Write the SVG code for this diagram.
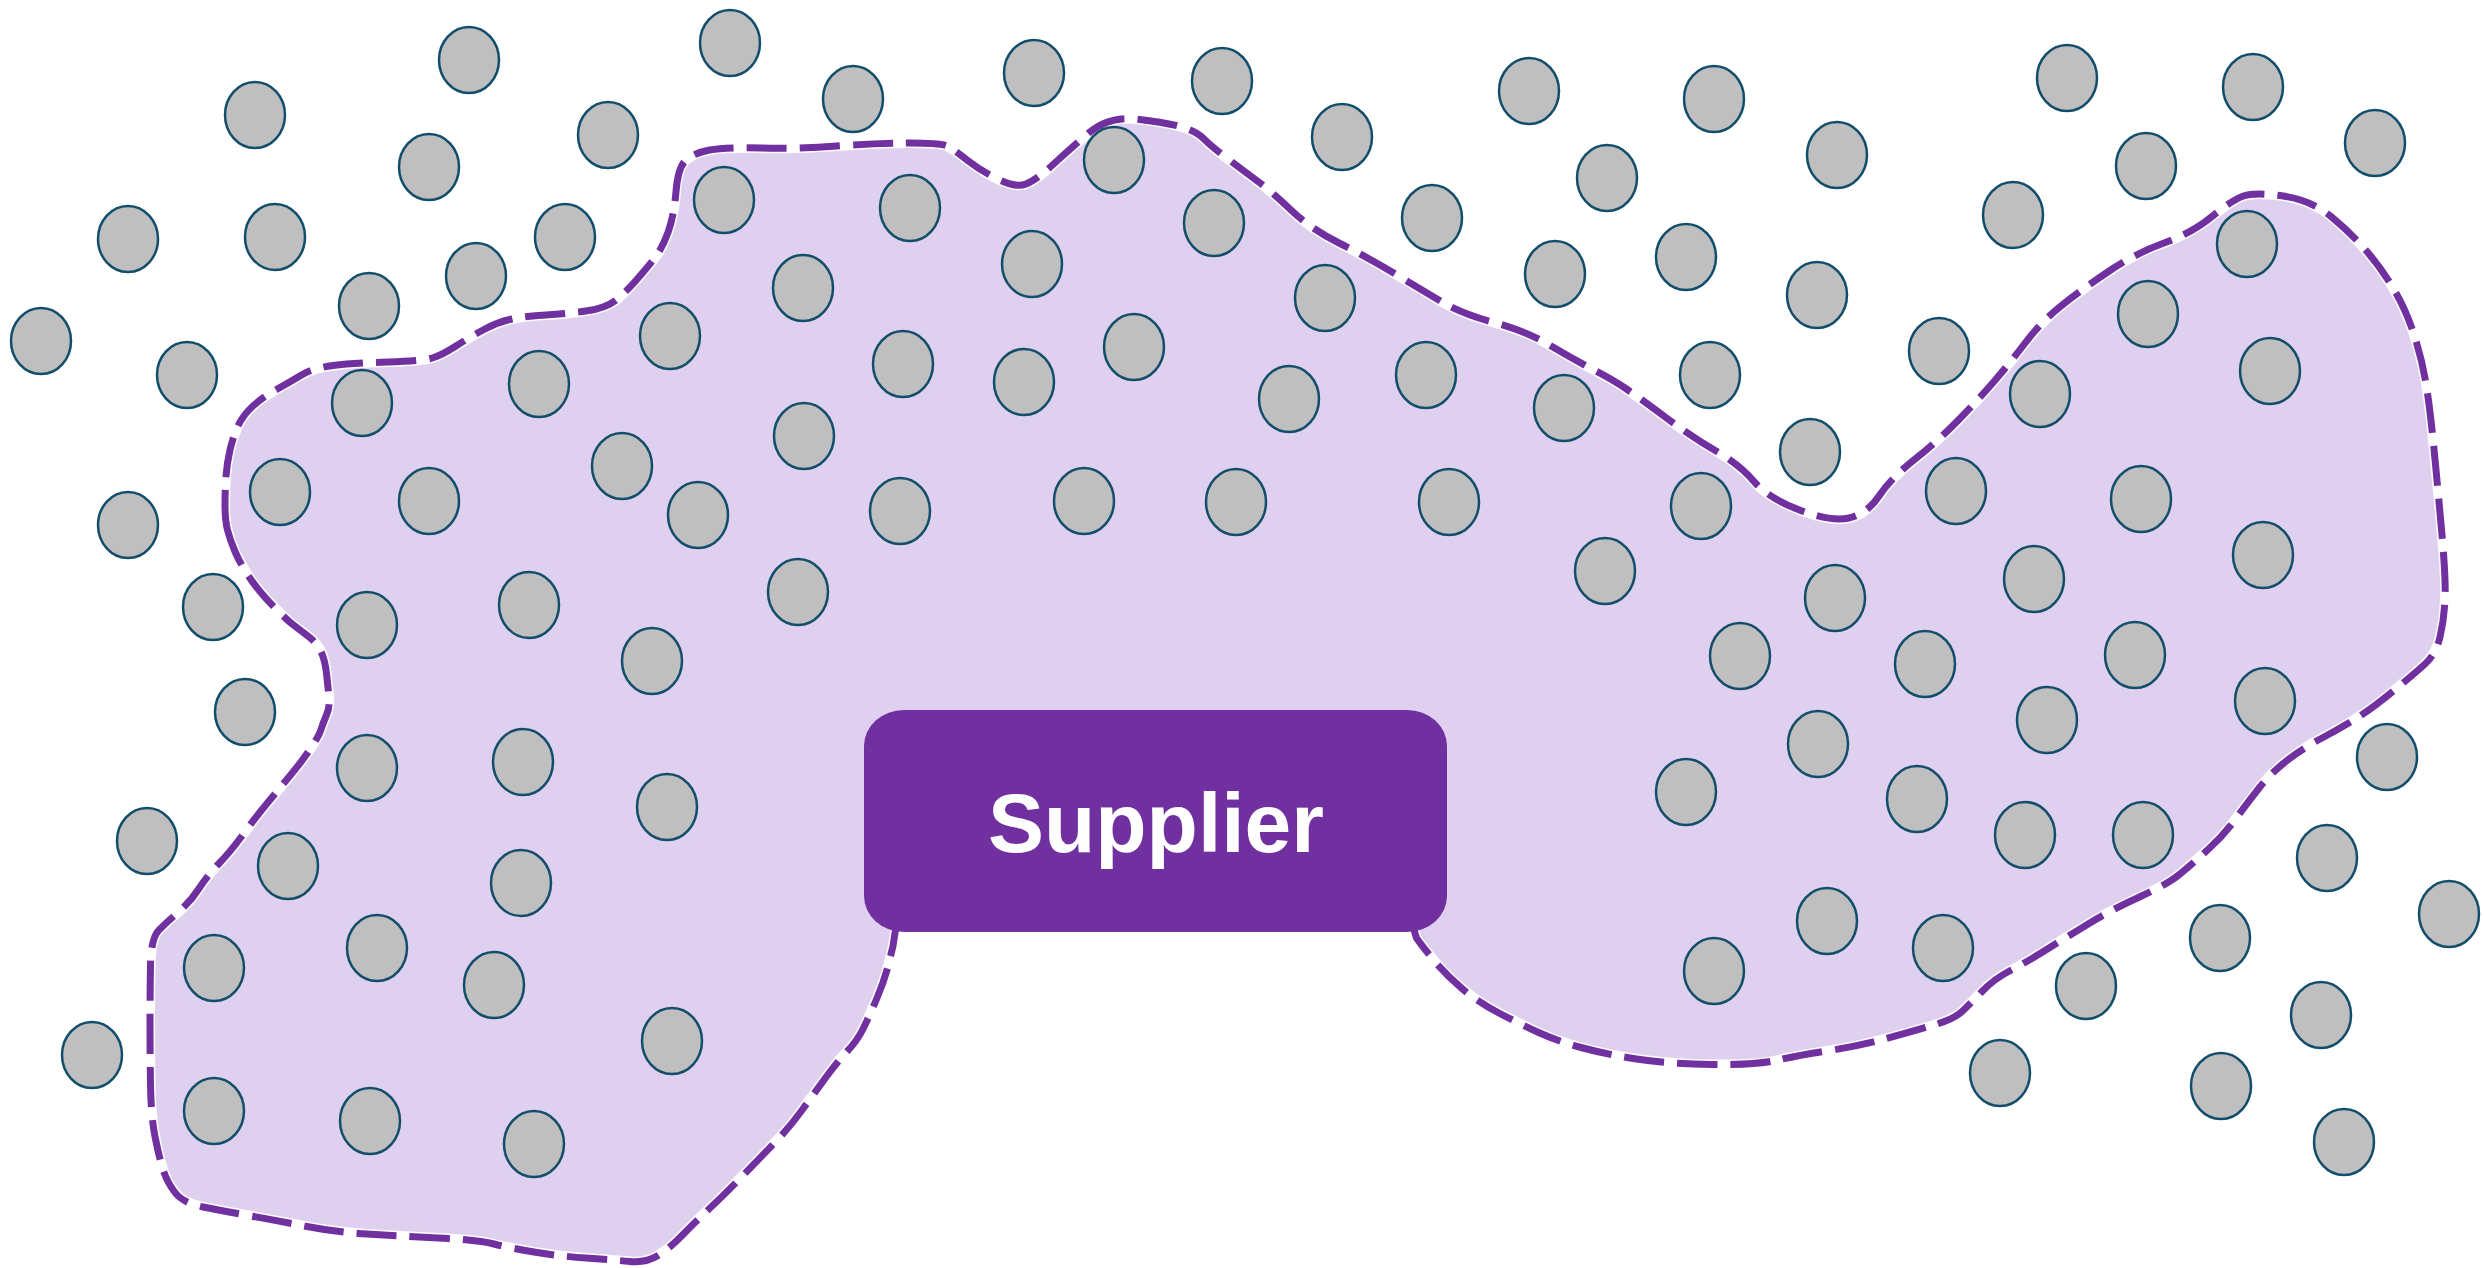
<svg xmlns="http://www.w3.org/2000/svg" width="2484" height="1268" viewBox="0 0 2484 1268">
  <style>
    .dot { fill: #BFBFBF; stroke: #124E6B; stroke-width: 2.5; }
    .zone { fill: #E0D0EF; stroke: none; }
    .halo { fill: none; stroke: #FFFFFF; stroke-width: 10; stroke-linejoin: round; }
    .edge { fill: none; stroke: #7030A0; stroke-width: 7; stroke-dasharray: 40 13; stroke-linejoin: round; }
    .box { fill: #7030A0; }
    .label { font-family: "Liberation Sans", Arial, sans-serif; font-weight: bold; font-size: 84px; fill: #FFFFFF; text-anchor: middle; }
  </style>
  <defs>
    <!-- smoothed outline of the area the supplier reaches (passes under the supplier box) -->
    <path id="reach" d="M227.5,530 Q225,520 225,505 Q225,490 226,476.5 Q227,463 230,450 Q233,437 238,426 Q243,415 253,406 Q263,397 276.5,389.5 Q290,382 301.5,375 Q313,368 333,365.5 Q353,363 388,362 Q423,361 432.5,358 Q442,355 456,346 Q470,337 484,329.5 Q498,322 512,319 Q526,316 546,315 Q566,314 586,311 Q606,308 616,300 Q626,292 636,280.5 Q646,269 654,259 Q662,249 668,232.5 Q674,216 676,191.5 Q678,167 686,160 Q694,153 709.5,150 Q725,147 761,148 Q797,149 837,146 Q877,143 909,143 Q941,143 947,146 Q953,149 967,160 Q981,171 998.5,179.5 Q1016,188 1026,184 Q1036,180 1052,165.5 Q1068,151 1088,133.5 Q1108,116 1136,119 Q1164,122 1180,126.5 Q1196,131 1204,139 Q1212,147 1228,159 Q1244,171 1258,181.5 Q1272,192 1291.5,210.5 Q1311,229 1339,243 Q1367,257 1394.5,273.5 Q1422,290 1442,302 Q1462,314 1494,322.5 Q1526,331 1549.5,345 Q1573,359 1593,369.5 Q1613,380 1625,388 Q1637,396 1664.5,416.5 Q1692,437 1716,451 Q1740,465 1754,481.5 Q1768,498 1799.5,510 Q1831,522 1849,518 Q1867,514 1879,496 Q1891,478 1914.5,459.5 Q1938,441 1958,420.5 Q1978,400 1994,381.5 Q2010,363 2025.5,342.5 Q2041,322 2061,306 Q2081,290 2108.5,271.5 Q2136,253 2164,243 Q2192,233 2212,216.5 Q2232,200 2243.5,196 Q2255,192 2283,196 Q2311,200 2331,216.5 Q2351,233 2366.5,251 Q2382,269 2394,289.5 Q2406,310 2414,334.5 Q2422,359 2426,383.5 Q2430,408 2434,449 Q2438,490 2442,535 Q2446,580 2445,600 Q2444,620 2440,637 Q2436,654 2425,664 Q2414,674 2394,690.5 Q2374,707 2358.5,717 Q2343,727 2323,737.5 Q2303,748 2287,760.5 Q2271,773 2259.5,787.5 Q2248,802 2236,818.5 Q2224,835 2208,849.5 Q2192,864 2180,874 Q2168,884 2140.5,896.5 Q2113,909 2089,923.5 Q2065,938 2045,950.5 Q2025,963 2009.5,971 Q1994,979 1982,991.5 Q1970,1004 1962,1011.5 Q1954,1019 1934,1025 Q1914,1031 1886.5,1038.5 Q1859,1046 1827,1051 Q1795,1056 1775.5,1060.5 Q1756,1065 1712,1064.5 Q1668,1064 1636.5,1059 Q1605,1054 1581,1047.5 Q1557,1041 1537.5,1032 Q1518,1023 1498,1012.5 Q1478,1002 1462,988.5 Q1446,975 1434,960.5 Q1422,946 1416.5,938 L1405,900 L900,900 L893,946 L889,962.5 Q885,979 877,998 Q869,1017 863,1029 Q857,1041 847,1051.5 Q837,1062 825,1078.5 Q813,1095 801,1111.5 Q789,1128 773,1144.5 Q757,1161 741,1177.5 Q725,1194 709.5,1208.5 Q694,1223 682,1235.5 Q670,1248 658,1255.5 Q646,1263 630,1261.5 Q614,1260 586,1258 Q558,1256 534,1252 Q510,1248 494,1244 Q478,1240 438.5,1238 Q399,1236 367,1234 Q335,1232 307,1226.5 Q279,1221 251,1216 Q223,1211 203,1207 Q183,1203 175,1192.5 Q167,1182 163,1169.5 Q159,1157 155,1136.5 Q151,1116 150.5,1085 Q150,1054 150,1023 Q150,992 150.5,965 Q151,938 159,930 Q167,922 179,911.5 Q191,901 199,888.5 Q207,876 219,863.5 Q231,851 243,834.5 Q255,818 267,803.5 Q279,789 291,774.5 Q303,760 311,748 Q319,736 321,729.5 Q323,723 326.5,715 Q330,707 329,697 Q328,687 326.5,673.5 Q325,660 321,651.5 Q317,643 308.5,636.5 Q300,630 293.5,625 Q287,620 277,610 Q267,600 260,591.5 Q253,583 246.5,573 Q240,563 235,551.5 Q230,540 227.5,530 Z"/>
  </defs>

  <!-- supplier reach area -->
  <g id="reach-area">
    <use href="#reach" class="zone"/>
    <use href="#reach" class="halo"/>
    <use href="#reach" class="edge"/>
  </g>

  <!-- entities -->
  <g id="entities">
    <ellipse class="dot" cx="255" cy="115" rx="30" ry="33"/>
    <ellipse class="dot" cx="469" cy="60" rx="30" ry="33"/>
    <ellipse class="dot" cx="730" cy="43" rx="30" ry="33"/>
    <ellipse class="dot" cx="853" cy="99" rx="30" ry="33"/>
    <ellipse class="dot" cx="1034" cy="73" rx="30" ry="33"/>
    <ellipse class="dot" cx="1222" cy="81" rx="30" ry="33"/>
    <ellipse class="dot" cx="608" cy="135" rx="30" ry="33"/>
    <ellipse class="dot" cx="429" cy="167" rx="30" ry="33"/>
    <ellipse class="dot" cx="128" cy="239" rx="30" ry="33"/>
    <ellipse class="dot" cx="275" cy="237" rx="30" ry="33"/>
    <ellipse class="dot" cx="565" cy="237" rx="30" ry="33"/>
    <ellipse class="dot" cx="724" cy="200" rx="30" ry="33"/>
    <ellipse class="dot" cx="910" cy="208" rx="30" ry="33"/>
    <ellipse class="dot" cx="1114" cy="160" rx="30" ry="33"/>
    <ellipse class="dot" cx="1214" cy="223" rx="30" ry="33"/>
    <ellipse class="dot" cx="1032" cy="264" rx="30" ry="33"/>
    <ellipse class="dot" cx="476" cy="276" rx="30" ry="33"/>
    <ellipse class="dot" cx="369" cy="306" rx="30" ry="33"/>
    <ellipse class="dot" cx="41" cy="341" rx="30" ry="33"/>
    <ellipse class="dot" cx="187" cy="375" rx="30" ry="33"/>
    <ellipse class="dot" cx="803" cy="288" rx="30" ry="33"/>
    <ellipse class="dot" cx="670" cy="336" rx="30" ry="33"/>
    <ellipse class="dot" cx="539" cy="384" rx="30" ry="33"/>
    <ellipse class="dot" cx="362" cy="403" rx="30" ry="33"/>
    <ellipse class="dot" cx="903" cy="364" rx="30" ry="33"/>
    <ellipse class="dot" cx="1024" cy="382" rx="30" ry="33"/>
    <ellipse class="dot" cx="1134" cy="347" rx="30" ry="33"/>
    <ellipse class="dot" cx="804" cy="436" rx="30" ry="33"/>
    <ellipse class="dot" cx="622" cy="466" rx="30" ry="33"/>
    <ellipse class="dot" cx="280" cy="492" rx="30" ry="33"/>
    <ellipse class="dot" cx="429" cy="501" rx="30" ry="33"/>
    <ellipse class="dot" cx="698" cy="515" rx="30" ry="33"/>
    <ellipse class="dot" cx="900" cy="511" rx="30" ry="33"/>
    <ellipse class="dot" cx="1084" cy="501" rx="30" ry="33"/>
    <ellipse class="dot" cx="1236" cy="502" rx="30" ry="33"/>
    <ellipse class="dot" cx="128" cy="525" rx="30" ry="33"/>
    <ellipse class="dot" cx="213" cy="607" rx="30" ry="33"/>
    <ellipse class="dot" cx="367" cy="625" rx="30" ry="33"/>
    <ellipse class="dot" cx="529" cy="605" rx="30" ry="33"/>
    <ellipse class="dot" cx="798" cy="592" rx="30" ry="33"/>
    <ellipse class="dot" cx="652" cy="661" rx="30" ry="33"/>
    <ellipse class="dot" cx="1529" cy="91" rx="30" ry="33"/>
    <ellipse class="dot" cx="1714" cy="99" rx="30" ry="33"/>
    <ellipse class="dot" cx="1342" cy="137" rx="30" ry="33"/>
    <ellipse class="dot" cx="1607" cy="178" rx="30" ry="33"/>
    <ellipse class="dot" cx="1837" cy="155" rx="30" ry="33"/>
    <ellipse class="dot" cx="2067" cy="78" rx="30" ry="33"/>
    <ellipse class="dot" cx="2253" cy="87" rx="30" ry="33"/>
    <ellipse class="dot" cx="2375" cy="143" rx="30" ry="33"/>
    <ellipse class="dot" cx="2146" cy="166" rx="30" ry="33"/>
    <ellipse class="dot" cx="2013" cy="215" rx="30" ry="33"/>
    <ellipse class="dot" cx="1432" cy="218" rx="30" ry="33"/>
    <ellipse class="dot" cx="1555" cy="274" rx="30" ry="33"/>
    <ellipse class="dot" cx="1686" cy="257" rx="30" ry="33"/>
    <ellipse class="dot" cx="1817" cy="295" rx="30" ry="33"/>
    <ellipse class="dot" cx="2247" cy="244" rx="30" ry="33"/>
    <ellipse class="dot" cx="1325" cy="298" rx="30" ry="33"/>
    <ellipse class="dot" cx="2148" cy="314" rx="30" ry="33"/>
    <ellipse class="dot" cx="1939" cy="351" rx="30" ry="33"/>
    <ellipse class="dot" cx="1710" cy="375" rx="30" ry="33"/>
    <ellipse class="dot" cx="1426" cy="375" rx="30" ry="33"/>
    <ellipse class="dot" cx="1289" cy="399" rx="30" ry="33"/>
    <ellipse class="dot" cx="1564" cy="408" rx="30" ry="33"/>
    <ellipse class="dot" cx="2270" cy="371" rx="30" ry="33"/>
    <ellipse class="dot" cx="2040" cy="394" rx="30" ry="33"/>
    <ellipse class="dot" cx="1810" cy="452" rx="30" ry="33"/>
    <ellipse class="dot" cx="1449" cy="502" rx="30" ry="33"/>
    <ellipse class="dot" cx="1701" cy="506" rx="30" ry="33"/>
    <ellipse class="dot" cx="1956" cy="491" rx="30" ry="33"/>
    <ellipse class="dot" cx="2141" cy="499" rx="30" ry="33"/>
    <ellipse class="dot" cx="2263" cy="555" rx="30" ry="33"/>
    <ellipse class="dot" cx="1605" cy="571" rx="30" ry="33"/>
    <ellipse class="dot" cx="1835" cy="598" rx="30" ry="33"/>
    <ellipse class="dot" cx="2034" cy="579" rx="30" ry="33"/>
    <ellipse class="dot" cx="245" cy="712" rx="30" ry="33"/>
    <ellipse class="dot" cx="367" cy="768" rx="30" ry="33"/>
    <ellipse class="dot" cx="523" cy="762" rx="30" ry="33"/>
    <ellipse class="dot" cx="667" cy="807" rx="30" ry="33"/>
    <ellipse class="dot" cx="147" cy="841" rx="30" ry="33"/>
    <ellipse class="dot" cx="288" cy="866" rx="30" ry="33"/>
    <ellipse class="dot" cx="521" cy="883" rx="30" ry="33"/>
    <ellipse class="dot" cx="214" cy="968" rx="30" ry="33"/>
    <ellipse class="dot" cx="377" cy="948" rx="30" ry="33"/>
    <ellipse class="dot" cx="494" cy="985" rx="30" ry="33"/>
    <ellipse class="dot" cx="672" cy="1041" rx="30" ry="33"/>
    <ellipse class="dot" cx="92" cy="1055" rx="30" ry="33"/>
    <ellipse class="dot" cx="214" cy="1111" rx="30" ry="33"/>
    <ellipse class="dot" cx="370" cy="1121" rx="30" ry="33"/>
    <ellipse class="dot" cx="534" cy="1144" rx="30" ry="33"/>
    <ellipse class="dot" cx="1740" cy="656" rx="30" ry="33"/>
    <ellipse class="dot" cx="1925" cy="664" rx="30" ry="33"/>
    <ellipse class="dot" cx="2135" cy="655" rx="30" ry="33"/>
    <ellipse class="dot" cx="2265" cy="701" rx="30" ry="33"/>
    <ellipse class="dot" cx="2047" cy="720" rx="30" ry="33"/>
    <ellipse class="dot" cx="1818" cy="744" rx="30" ry="33"/>
    <ellipse class="dot" cx="1686" cy="792" rx="30" ry="33"/>
    <ellipse class="dot" cx="1917" cy="799" rx="30" ry="33"/>
    <ellipse class="dot" cx="2025" cy="835" rx="30" ry="33"/>
    <ellipse class="dot" cx="2143" cy="835" rx="30" ry="33"/>
    <ellipse class="dot" cx="2387" cy="757" rx="30" ry="33"/>
    <ellipse class="dot" cx="2327" cy="858" rx="30" ry="33"/>
    <ellipse class="dot" cx="2449" cy="914" rx="30" ry="33"/>
    <ellipse class="dot" cx="2220" cy="938" rx="30" ry="33"/>
    <ellipse class="dot" cx="1827" cy="921" rx="30" ry="33"/>
    <ellipse class="dot" cx="1943" cy="948" rx="30" ry="33"/>
    <ellipse class="dot" cx="1714" cy="971" rx="30" ry="33"/>
    <ellipse class="dot" cx="2086" cy="986" rx="30" ry="33"/>
    <ellipse class="dot" cx="2321" cy="1015" rx="30" ry="33"/>
    <ellipse class="dot" cx="2000" cy="1073" rx="30" ry="33"/>
    <ellipse class="dot" cx="2221" cy="1086" rx="30" ry="33"/>
    <ellipse class="dot" cx="2344" cy="1142" rx="30" ry="33"/>
  </g>

  <!-- supplier node -->
  <g id="supplier">
    <rect class="box" x="864" y="710" width="583" height="222" rx="40" ry="36"/>
    <text class="label" x="1156" y="852">Supplier</text>
  </g>
</svg>
